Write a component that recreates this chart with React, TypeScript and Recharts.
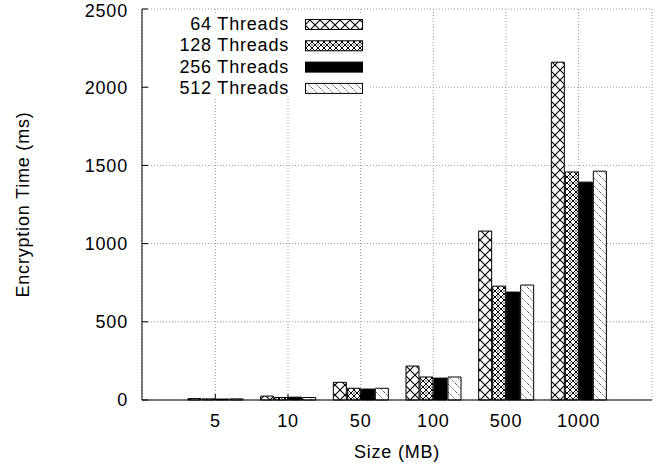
import React from 'react';
import { BarChart, Bar, XAxis, YAxis, CartesianGrid } from 'recharts';

const sizes = ['5', '10', '50', '100', '500', '1000'];
const threads64 = [9, 25, 113, 217, 1080, 2160];
const threads128 = [7, 16, 75, 147, 728, 1458];
const threads256 = [6, 18, 70, 140, 690, 1393];
const threads512 = [7, 16, 75, 147, 735, 1463];
const yTicks = [0, 500, 1000, 1500, 2000, 2500];

const series = [
  { key: 't64', name: '64 Threads', values: threads64, fill: 'url(#p64)' },
  { key: 't128', name: '128 Threads', values: threads128, fill: 'url(#p128)' },
  { key: 't256', name: '256 Threads', values: threads256, fill: '#000' },
  { key: 't512', name: '512 Threads', values: threads512, fill: 'url(#p512)' },
];

const data = sizes.map((size, i) => {
  const row: Record<string, string | number> = { size };
  series.forEach((s) => {
    row[s.key] = s.values[i];
  });
  return row;
});

const font = '"Liberation Sans", Arial, Helvetica, sans-serif';
const textStyle = { fill: '#000', fontSize: 18, fontFamily: font, letterSpacing: 0.8 };

const Patterns = () => (
  <defs>
    <pattern id="p64" width="10" height="10" patternUnits="userSpaceOnUse">
      <rect width="10" height="10" fill="#fff" />
      <path d="M0,0 L10,10 M10,0 L0,10" stroke="#000" strokeWidth={1.1} />
    </pattern>
    <pattern id="p128" width="6" height="6" patternUnits="userSpaceOnUse">
      <rect width="6" height="6" fill="#fff" />
      <path d="M0,0 L6,6 M6,0 L0,6" stroke="#000" strokeWidth={1} />
      <rect x="-0.6" y="2.4" width="1.2" height="1.2" fill="#000" />
      <rect x="5.4" y="2.4" width="1.2" height="1.2" fill="#000" />
    </pattern>
    <pattern id="p512" width="8" height="8" patternUnits="userSpaceOnUse">
      <rect width="8" height="8" fill="#fff" />
      <path d="M0,0 L8,8 M-1,7 L1,9 M7,-1 L9,1" stroke="#333" strokeWidth={0.8} strokeDasharray="1.5 1" />
    </pattern>
  </defs>
);

// gnuplot-style key box drawn over the plot area
const Key = () => (
  <svg
    width={663}
    height={469}
    style={{ position: 'absolute', left: 0, top: 0, pointerEvents: 'none' }}
  >
    <Patterns />
    <rect x={150} y={15} width={220} height={84} fill="#fff" />
    {series.map((s, i) => {
      const cy = 24 + i * 21.3;
      return (
        <g key={s.key}>
          <text x={289} y={cy + 6} textAnchor="end" style={textStyle}>
            {s.name}
          </text>
          <rect x={305.5} y={cy - 4.5} width={57} height={10} fill={s.fill} stroke="#000" strokeWidth={1} />
        </g>
      );
    })}
  </svg>
);

const App = () => {
  return (
    <div style={{ position: 'absolute', left: 0, top: 0, width: 663, height: 469, background: '#fff' }}>
      <BarChart
        width={663}
        height={469}
        data={data}
        margin={{ top: 9, right: 11, bottom: 0, left: 0 }}
        barSize={13}
        barGap={1}
      >
        <CartesianGrid stroke="#999" strokeDasharray="1 2" />
        <XAxis
          dataKey="size"
          height={69}
          padding={{ left: 37, right: 37 }}
          stroke="#000"
          tickSize={-6}
          tickMargin={20}
          tick={textStyle}
          label={{ value: 'Size (MB)', position: 'insideBottom', offset: 11, style: textStyle }}
        />
        <XAxis
          xAxisId="top"
          dataKey="size"
          orientation="top"
          height={0}
          padding={{ left: 37, right: 37 }}
          stroke="#000"
          tickSize={-6}
          tick={false}
        />
        <YAxis
          width={142}
          domain={[0, 2500]}
          ticks={yTicks}
          stroke="#000"
          tickSize={-6}
          tickMargin={20}
          tick={textStyle}
          label={{
            value: 'Encryption Time (ms)',
            angle: -90,
            position: 'insideLeft',
            offset: 23,
            style: { ...textStyle, textAnchor: 'middle' },
          }}
        />
        <YAxis
          yAxisId="right"
          orientation="right"
          width={0}
          domain={[0, 2500]}
          ticks={yTicks}
          stroke="#000"
          tickSize={-6}
          tick={false}
        />
        {series.map((s) => (
          <Bar
            key={s.key}
            dataKey={s.key}
            name={s.name}
            fill={s.fill}
            stroke="#000"
            strokeWidth={1}
            isAnimationActive={false}
          />
        ))}
      </BarChart>
      <Key />
    </div>
  );
};

export default App;
